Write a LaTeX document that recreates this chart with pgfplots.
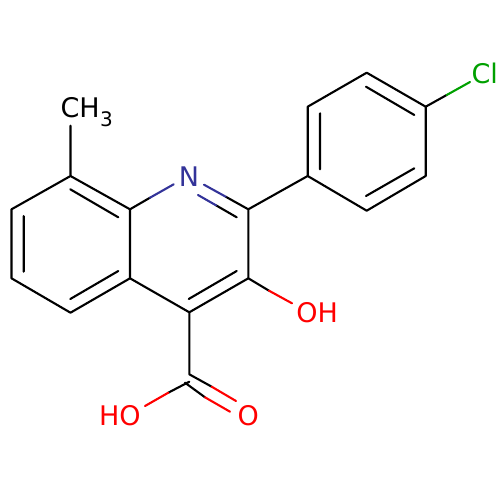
\documentclass[border=0pt]{standalone}
\usepackage{pgfplots}
\pgfplotsset{compat=1.18}
\usepackage{fontspec}
\setmainfont{DejaVu Sans}
\definecolor{nblue}{HTML}{333399}
\definecolor{clgreen}{HTML}{00A000}
\definecolor{ored}{HTML}{FF0000}
\tikzset{lbl/.style={anchor=base west, inner sep=0pt, outer sep=0pt, font=\fontsize{27}{27}\selectfont}}
\begin{document}
\begin{tikzpicture}
\path[use as bounding box] (0,0) rectangle (500pt,500pt);
\begin{axis}[
  at={(0,0)}, anchor=south west,
  scale only axis, width=500pt, height=500pt,
  xmin=0, xmax=500, ymin=0, ymax=500, y dir=reverse,
  hide axis, clip=false, unbounded coords=jump,
  every axis plot/.append style={no markers, line width=2.1pt, line cap=round, line join=round},
]
% black bonds
\addplot[black] coordinates {
 (70.5,125.7) (70.5,176) (11.5,209.3) (11.5,278.3) (70.5,312.7) (130,278.3) (130,209.3) (70.5,176) (nan,nan)
 (70.3,189.3) (118.3,217.3) (nan,nan)
 (23.7,216) (23.7,271.7) (nan,nan)
 (70.3,299) (118.3,271) (nan,nan)
 (130,209.3) (150,197.7) (nan,nan)
 (225.7,196.7) (248.3,209.3) (248.3,278.3) (189.3,312.3) (130,278.3) (nan,nan)
 (216,205.3) (236.7,217.3) (nan,nan)
 (236.7,271) (188.7,299) (nan,nan)
 (248.3,209.3) (307.7,176) (307.7,106.7) (366.7,72.7) (425.7,106.7) (425.7,176) (366.7,210.7) (307.7,176) (nan,nan)
 (320,113.3) (320,169.3) (nan,nan)
 (366,86.7) (414.3,115) (nan,nan)
 (366,196) (414.3,168.3) (nan,nan)
 (425.7,106.7) (446.7,95) (nan,nan)
 (248.3,278.3) (269,290.7) (nan,nan)
 (189.3,312.3) (189.3,374.3) (211.7,386.7) (nan,nan)
 (189.3,381.7) (168.3,392.7) (nan,nan)
 (185,382.7) (205,397.3) (nan,nan)
};
% nitrogen bonds
\addplot[nblue] coordinates {
 (150,197.7) (173.7,184.3) (nan,nan)
 (204,184.7) (225.7,196.7) (nan,nan)
 (198,195) (216,205.3)
};
% chlorine bond
\addplot[clgreen] coordinates {(446.7,95) (470,82)};
% oxygen bonds
\addplot[ored] coordinates {
 (269,290.7) (292,303.3) (nan,nan)
 (168.3,392.7) (145,406) (nan,nan)
 (211.7,386.7) (236,401) (nan,nan)
 (205,397.3) (230,411.7)
};
\node[lbl, text=black] at (axis cs:60.5,117.7) {CH};
\node[anchor=base west, inner sep=0pt, outer sep=0pt, font=\fontsize{20}{20}\selectfont, text=black] at (axis cs:100,127) {3};
\node[lbl, text=nblue] at (axis cs:178.8,186.7) {N};
\node[lbl, text=clgreen] at (axis cs:471.5,83.3) {Cl};
\node[lbl, text=ored] at (axis cs:296.3,322.3) {OH};
\node[lbl, text=ored] at (axis cs:99,425.7) {HO};
\node[lbl, text=ored] at (axis cs:237.7,425.7) {O};
\end{axis}
\end{tikzpicture}
\end{document}
